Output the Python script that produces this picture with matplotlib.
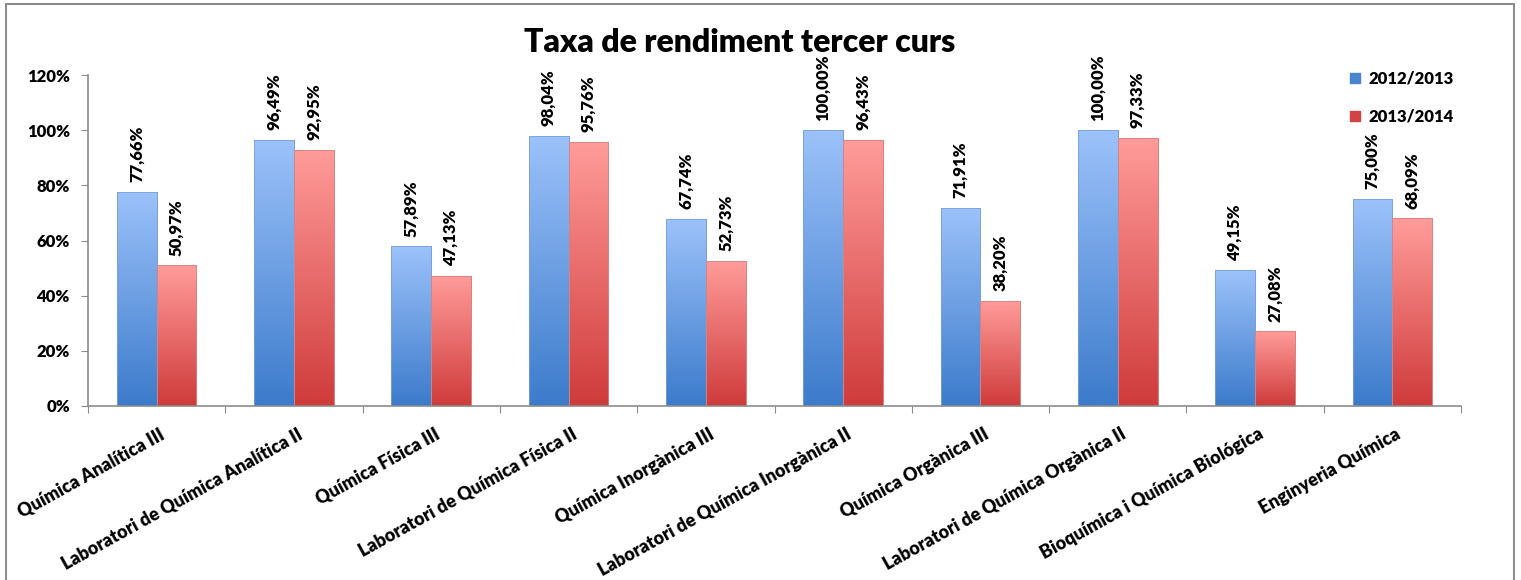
import numpy as np
import matplotlib.pyplot as plt
from matplotlib.colors import LinearSegmentedColormap
from matplotlib.patches import Rectangle

plt.rcParams['font.family'] = ['Lato', 'DejaVu Sans']

# Daten
categories = ['Química Analítica III', 'Laboratori de Química Analítica II',
              'Química Física III', 'Laboratori de Química Física II',
              'Química Inorgànica III', 'Laboratori de Química Inorgànica II',
              'Química Orgànica III', 'Laboratori de Química Orgànica II',
              'Bioquímica i Química Biológica', 'Enginyeria Química']
vals_2012 = [77.66, 96.49, 57.89, 98.04, 67.74, 100.00, 71.91, 100.00, 49.15, 75.00]
vals_2013 = [50.97, 92.95, 47.13, 95.76, 52.73, 96.43, 38.20, 97.33, 27.08, 68.09]
series_names = ['2012/2013', '2013/2014']
yticks = [0, 20, 40, 60, 80, 100, 120]

fig = plt.figure(figsize=(15.21, 5.8), dpi=100)
W, H = 1521, 580
ax = fig.add_axes([88 / W, 1 - 406 / H, (1461 - 88) / W, (406 - 75) / H])

# Rahmen um die Grafik
fig.patches.append(Rectangle((6 / W, -0.01), 1508 / W, 1 - 4 / H + 0.01,
                             transform=fig.transFigure, fill=False,
                             edgecolor='#8c8c8c', linewidth=1.5))

cmap_blue = LinearSegmentedColormap.from_list('b', ['#3c7bcb', '#9cc2fa'])
cmap_red = LinearSegmentedColormap.from_list('r', ['#cf3b3b', '#ff9c9a'])

x = np.arange(len(categories))
bw = 0.29
bars_b = ax.bar(x - bw / 2, vals_2012, bw, color='#4a83d0', edgecolor='#7aa0d8', linewidth=0.6,
                label=series_names[0])
bars_r = ax.bar(x + bw / 2, vals_2013, bw, color='#d44848', edgecolor='#d88282', linewidth=0.6,
                label=series_names[1])

grad = np.linspace(0, 1, 256).reshape(-1, 1)
for bars, cm in [(bars_b, cmap_blue), (bars_r, cmap_red)]:
    for b in bars:
        x0, w, h = b.get_x(), b.get_width(), b.get_height()
        im = ax.imshow(grad, cmap=cm, origin='lower', aspect='auto',
                       extent=(x0, x0 + w, 0, h), zorder=b.get_zorder() + 0.1)
        im.set_clip_path(b)
        ax.add_patch(Rectangle((x0, 0), w, h, fill=False, edgecolor=b.get_edgecolor(),
                               linewidth=0.6, zorder=b.get_zorder() + 0.2))

# Werte
for bars, vals in [(bars_b, vals_2012), (bars_r, vals_2013)]:
    for b, v in zip(bars, vals):
        ax.text(b.get_x() + b.get_width() / 2, v + 3.5, f'{v:.2f}%'.replace('.', ','),
                rotation=90, ha='center', va='bottom', fontsize=12, fontweight='heavy')

ax.set_xlim(-0.5, len(categories) - 0.5)
ax.set_ylim(0, 120)
ax.set_yticks(yticks)
ax.set_yticklabels([f'{t}%' for t in yticks], fontsize=12, fontweight='heavy')
ax.set_xticks(np.arange(len(categories) + 1) - 0.5)
ax.set_xticklabels([])
ax.tick_params(axis='x', length=5, color='#8c8c8c', direction='out')
ax.tick_params(axis='y', length=5, color='#8c8c8c', direction='out', pad=8)
for i, c in enumerate(categories):
    ax.annotate(c, xy=(i + 0.02, 0), xycoords=('data', 'axes fraction'),
                xytext=(0, -14), textcoords='offset points',
                rotation=29, rotation_mode='anchor', ha='right', va='top',
                fontsize=13, fontweight='heavy')

for s in ['top', 'right']:
    ax.spines[s].set_visible(False)
for s in ['left', 'bottom']:
    ax.spines[s].set_color('#8c8c8c')
    ax.spines[s].set_linewidth(1.2)

fig.text(740 / W, 1 - 42 / H, 'Taxa de rendiment tercer curs', ha='center', va='center',
         fontsize=23, fontweight='heavy')

leg = fig.legend(handles=[Rectangle((0, 0), 1, 1, color='#4a83d0'),
                          Rectangle((0, 0), 1, 1, color='#d04444')],
                 labels=series_names, loc='upper left', bbox_to_anchor=(1335 / W, 1 - 56 / H),
                 frameon=False, prop={'weight': 'heavy', 'size': 12},
                 handlelength=0.6, handleheight=0.6, handletextpad=0.5, labelspacing=1.3)

fig.savefig('out.png', dpi=100)
